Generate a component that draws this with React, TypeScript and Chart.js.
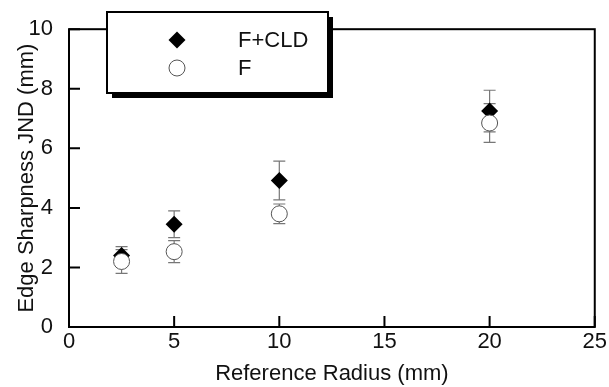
import React, { useEffect, useRef } from "react";
import { Chart, registerables } from "chart.js";

Chart.register(...registerables);

const radius = [2.5, 5, 10, 20];
const fcldValues = [2.4, 3.45, 4.92, 7.25];
const fcldErrors = [0.3, 0.45, 0.65, 0.7];
const fValues = [2.2, 2.53, 3.8, 6.85];
const fErrors = [0.4, 0.37, 0.33, 0.65];
const seriesLabels = ["F+CLD", "F"];
const xTitle = "Reference Radius (mm)";
const yTitle = "Edge Sharpness JND (mm)";

const FONT = "'Liberation Sans', Arial, sans-serif";

function drawDiamond(ctx: CanvasRenderingContext2D, x: number, y: number, r: number) {
  ctx.save();
  ctx.beginPath();
  ctx.moveTo(x, y - r);
  ctx.lineTo(x + r, y);
  ctx.lineTo(x, y + r);
  ctx.lineTo(x - r, y);
  ctx.closePath();
  ctx.fillStyle = "#000";
  ctx.fill();
  ctx.restore();
}

function drawCircle(ctx: CanvasRenderingContext2D, x: number, y: number, r: number) {
  ctx.save();
  ctx.beginPath();
  ctx.arc(x, y, r, 0, Math.PI * 2);
  ctx.fillStyle = "#fff";
  ctx.fill();
  ctx.lineWidth = 1;
  ctx.strokeStyle = "#555";
  ctx.stroke();
  ctx.restore();
}

const errorBarPlugin = {
  id: "errorBars",
  beforeDatasetsDraw(chart: any) {
    const ctx = chart.ctx as CanvasRenderingContext2D;
    const xs = chart.scales.x;
    const ys = chart.scales.y;
    const sets = [
      { v: fcldValues, e: fcldErrors },
      { v: fValues, e: fErrors },
    ];
    ctx.save();
    ctx.strokeStyle = "#777";
    ctx.lineWidth = 1.2;
    sets.forEach((s) => {
      radius.forEach((r, i) => {
        const px = xs.getPixelForValue(r);
        const top = ys.getPixelForValue(s.v[i] + s.e[i]);
        const bot = ys.getPixelForValue(s.v[i] - s.e[i]);
        ctx.beginPath();
        ctx.moveTo(px, top);
        ctx.lineTo(px, bot);
        ctx.moveTo(px - 6, top);
        ctx.lineTo(px + 6, top);
        ctx.moveTo(px - 6, bot);
        ctx.lineTo(px + 6, bot);
        ctx.stroke();
      });
    });
    ctx.restore();
  },
};

const framePlugin = {
  id: "frame",
  beforeDatasetsDraw(chart: any) {
    const ctx = chart.ctx as CanvasRenderingContext2D;
    const a = chart.chartArea;
    const xs = chart.scales.x;
    const ys = chart.scales.y;
    ctx.save();
    ctx.strokeStyle = "#000";
    ctx.lineWidth = 2;
    ctx.strokeRect(a.left, a.top, a.right - a.left, a.bottom - a.top);
    const tl = 11;
    ctx.beginPath();
    xs.ticks.forEach((t: any) => {
      const px = xs.getPixelForValue(t.value);
      ctx.moveTo(px, a.bottom);
      ctx.lineTo(px, a.bottom - tl);
    });
    ys.ticks.forEach((t: any) => {
      const py = ys.getPixelForValue(t.value);
      ctx.moveTo(a.left, py);
      ctx.lineTo(a.left + tl, py);
    });
    ctx.stroke();
    ctx.restore();
  },
};

const legendPlugin = {
  id: "boxLegend",
  afterDraw(chart: any) {
    const ctx = chart.ctx as CanvasRenderingContext2D;
    const bx = 107, by = 12, bw = 221, bh = 81, sh = 5;
    ctx.save();
    ctx.fillStyle = "#000";
    ctx.fillRect(bx + sh, by + sh, bw, bh);
    ctx.fillStyle = "#fff";
    ctx.fillRect(bx, by, bw, bh);
    ctx.lineWidth = 2;
    ctx.strokeStyle = "#000";
    ctx.strokeRect(bx, by, bw, bh);
    drawDiamond(ctx, 177, 40, 8.5);
    drawCircle(ctx, 177, 68, 8);
    ctx.fillStyle = "#111";
    ctx.font = `22px ${FONT}`;
    ctx.textBaseline = "middle";
    ctx.textAlign = "left";
    ctx.fillText(seriesLabels[0], 238, 41);
    ctx.fillText(seriesLabels[1], 238, 69);
    ctx.restore();
  },
};

export default function App() {
  const ref = useRef<HTMLCanvasElement | null>(null);
  useEffect(() => {
    if (!ref.current) return;
    const chart = new Chart(ref.current, {
      type: "scatter",
      data: {
        datasets: [
          {
            label: seriesLabels[0],
            data: radius.map((x, i) => ({ x, y: fcldValues[i] })),
            pointStyle: "rectRot",
            pointRadius: 8.5,
            backgroundColor: "#000",
            borderColor: "#000",
            borderWidth: 0,
            order: 2,
          },
          {
            label: seriesLabels[1],
            data: radius.map((x, i) => ({ x, y: fValues[i] })),
            pointStyle: "circle",
            pointRadius: 8,
            backgroundColor: "#fff",
            borderColor: "#555",
            borderWidth: 1,
            order: 1,
          },
        ],
      },
      plugins: [framePlugin, errorBarPlugin, legendPlugin],
      options: {
        responsive: false,
        animation: false,
        layout: { padding: { top: 22, right: 12, left: 0, bottom: 0 } },
        plugins: { legend: { display: false }, tooltip: { enabled: false } },
        scales: {
          x: {
            type: "linear",
            min: 0,
            max: 25,
            afterFit: (s: any) => { s.height = 60; },
            ticks: { stepSize: 5, color: "#111", font: { family: FONT, size: 22 }, padding: 2, maxRotation: 0 },
            grid: { display: false, drawTicks: false },
            border: { display: false },
            title: { display: true, text: xTitle, color: "#111", font: { family: FONT, size: 22 }, padding: { top: 0, bottom: 0 } },
          },
          y: {
            type: "linear",
            min: 0,
            max: 10,
            afterFit: (s: any) => { s.width = 69; },
            ticks: { stepSize: 2, color: "#111", font: { family: FONT, size: 22 }, padding: 16 },
            grid: { display: false, drawTicks: false },
            border: { display: false },
            title: { display: true, text: yTitle, color: "#111", font: { family: FONT, size: 22 }, padding: { top: 14, bottom: 0 } },
          },
        },
      },
    });
    return () => chart.destroy();
  }, []);
  return (
    <div style={{ position: "absolute", left: 0, top: 0, width: 609, height: 387, background: "#fff" }}>
      <canvas ref={ref} width={609} height={387} style={{ display: "block" }} />
    </div>
  );
}
